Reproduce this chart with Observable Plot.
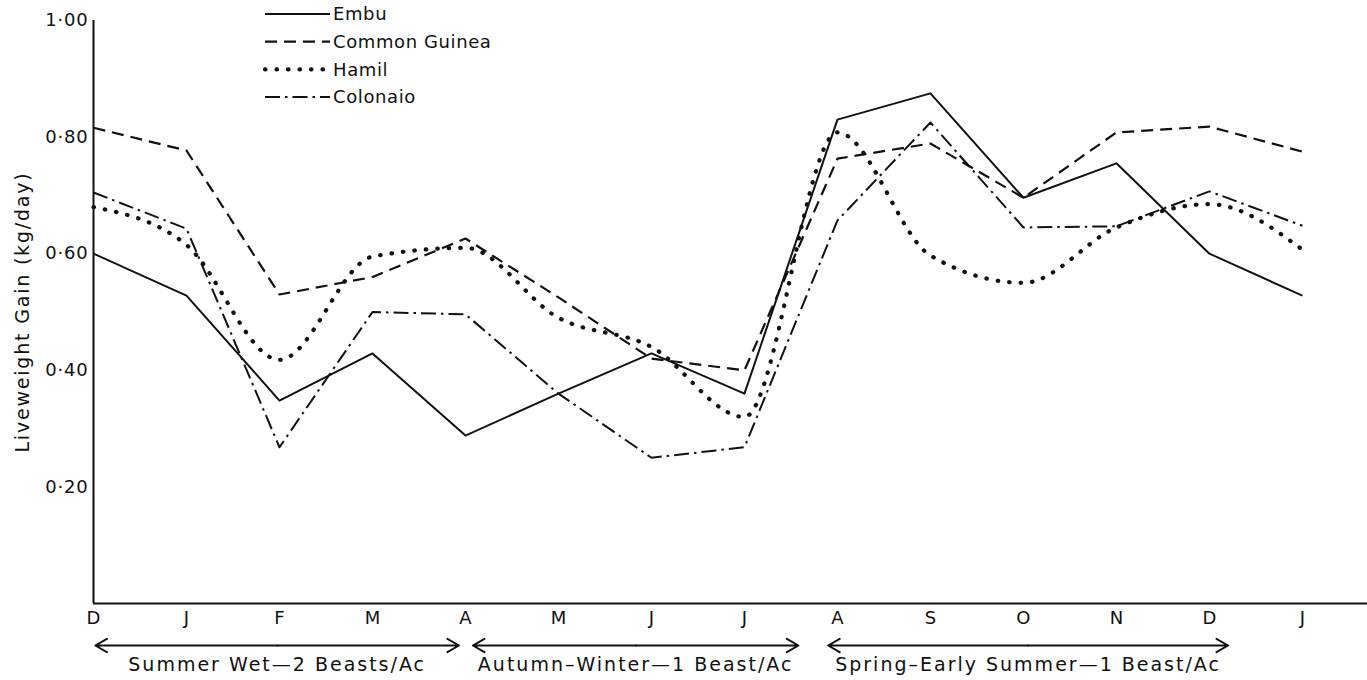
<!DOCTYPE html>
<html>
<head>
<meta charset="utf-8">
<script src="https://cdn.jsdelivr.net/npm/d3@7"></script>
<script src="https://cdn.jsdelivr.net/npm/@observablehq/plot@0.6"></script>
<style>
  html, body { margin: 0; padding: 0; background: #fff; }
  #wrap { position: relative; width: 1367px; height: 680px; }
  #legend { position: absolute; left: 0; top: 0; }
</style>
</head>
<body>
<div id="wrap"></div>
<script>
// ---- data ----
const months = ["D","J","F","M","A","M","J","J","A","S","O","N","D","J"];
const embu         = [0.600, 0.528, 0.348, 0.429, 0.288, 0.360, 0.429, 0.360, 0.830, 0.875, 0.696, 0.755, 0.600, 0.528];
const commonGuinea = [0.816, 0.777, 0.530, 0.560, 0.626, 0.525, 0.420, 0.400, 0.763, 0.789, 0.696, 0.808, 0.818, 0.775];
const hamil        = [0.680, 0.615, 0.418, 0.595, 0.610, 0.490, 0.440, 0.320, 0.808, 0.597, 0.550, 0.645, 0.685, 0.607];
const colonaio     = [0.705, 0.643, 0.268, 0.500, 0.496, 0.360, 0.250, 0.268, 0.657, 0.825, 0.645, 0.647, 0.707, 0.648];
const seriesNames  = ["Embu", "Common Guinea", "Hamil", "Colonaio"];
const yTicks       = [0.2, 0.4, 0.6, 0.8, 1.0];
const yLabel       = "Liveweight Gain (kg/day)";
const seasons      = ["Summer Wet\u20142 Beasts/Ac", "Autumn\u2013Winter\u20141 Beast/Ac", "Spring\u2013Early Summer\u20141 Beast/Ac"];
const seasonStart  = [0.02, 4.08, 7.9];
const seasonEnd    = [3.93, 7.58, 12.2];

// ---- build ----
const FONT = "'DejaVu Sans', sans-serif";
const values = [embu, commonGuinea, hamil, colonaio];
const styles = {
  "Embu":          {strokeWidth: 2,   strokeDasharray: null,         strokeLinecap: "butt",  curve: "linear"},
  "Common Guinea": {strokeWidth: 2.2, strokeDasharray: "12,7",       strokeLinecap: "butt",  curve: "linear"},
  "Hamil":         {strokeWidth: 4.2, strokeDasharray: "0.5,11",     strokeLinecap: "round", curve: "monotone-x"},
  "Colonaio":      {strokeWidth: 2,   strokeDasharray: "15,5,2.5,5", strokeLinecap: "butt",  curve: "linear"}
};
const rows = [];
seriesNames.forEach((name, s) => values[s].forEach((v, i) => rows.push({series: name, i, v})));
const seasonRows = seasons.map((label, k) => ({label, a: seasonStart[k], b: seasonEnd[k], m: (seasonStart[k] + seasonEnd[k]) / 2}));
const fmt = d => d.toFixed(2).replace(".", "\u00b7");

const lineMarks = seriesNames.map(name => {
  const st = styles[name];
  const o = {x: "i", y: "v", stroke: "#111", strokeWidth: st.strokeWidth, strokeLinecap: st.strokeLinecap,
             strokeLinejoin: "round", curve: st.curve};
  if (st.strokeDasharray) o.strokeDasharray = st.strokeDasharray;
  return Plot.line(rows.filter(r => r.series === name), o);
});

const chart = Plot.plot({
  width: 1367, height: 680,
  marginLeft: 93, marginRight: 0, marginTop: 20, marginBottom: 77,
  x: {domain: [0, 13.7]},
  y: {domain: [0, 1]},
  style: {fontFamily: FONT, fontSize: "18px", color: "#111", background: "#fff"},
  marks: [
    Plot.axisY({ticks: yTicks, tickFormat: fmt, tickSize: 0, tickPadding: 5, label: null, fontSize: 18}),
    Plot.axisX({ticks: d3.range(months.length), tickFormat: i => months[i], tickSize: 0, tickPadding: 8, label: null, fontSize: 18}),
    Plot.text([yLabel], {frameAnchor: "left", dx: -71, rotate: -90, textAnchor: "middle", fontSize: 19, fill: "#111"}),
    Plot.ruleX([0], {stroke: "#111", strokeWidth: 2}),
    Plot.ruleY([0], {stroke: "#111", strokeWidth: 2}),
    ...lineMarks,
    Plot.arrow(seasonRows, {x1: "m", x2: "b", y1: () => 0, y2: () => 0, dy: 42, stroke: "#111", strokeWidth: 2, headLength: 10}),
    Plot.arrow(seasonRows, {x1: "m", x2: "a", y1: () => 0, y2: () => 0, dy: 42, stroke: "#111", strokeWidth: 2, headLength: 10}),
    Plot.text(seasonRows, {x: "m", y: () => 0, dy: 61, text: "label", fontSize: 19, fill: "#111"})
  ]
});
// widen letter spacing to mimic the broad typeface of the original
const allText = d3.select(chart).selectAll("text");
allText.filter(function() { return seasons.includes(this.textContent); }).attr("letter-spacing", 2);
allText.filter(function() { return this.textContent === yLabel; }).attr("letter-spacing", 1.8);
allText.filter(function() { return yTicks.map(fmt).includes(this.textContent); }).attr("letter-spacing", 0.8);
const wrap = document.getElementById("wrap");
wrap.appendChild(chart);

// ---- legend overlay ----
const ns = "http://www.w3.org/2000/svg";
const leg = document.createElementNS(ns, "svg");
leg.setAttribute("id", "legend");
leg.setAttribute("width", 520); leg.setAttribute("height", 115);
seriesNames.forEach((name, k) => {
  const st = styles[name];
  const cy = 14 + k * 27.7;
  const ln = document.createElementNS(ns, "line");
  ln.setAttribute("x1", 265); ln.setAttribute("x2", 330);
  ln.setAttribute("y1", cy); ln.setAttribute("y2", cy);
  ln.setAttribute("stroke", "#111");
  ln.setAttribute("stroke-width", st.strokeWidth);
  ln.setAttribute("stroke-linecap", st.strokeLinecap);
  if (st.strokeDasharray) ln.setAttribute("stroke-dasharray", st.strokeDasharray);
  leg.appendChild(ln);
  const tx = document.createElementNS(ns, "text");
  tx.setAttribute("x", 333); tx.setAttribute("y", cy);
  tx.setAttribute("dy", "0.35em");
  tx.setAttribute("font-family", FONT);
  tx.setAttribute("font-size", 18);
  tx.setAttribute("letter-spacing", 0.6);
  tx.setAttribute("fill", "#111");
  tx.textContent = name;
  leg.appendChild(tx);
});
wrap.appendChild(leg);
</script>
</body>
</html>
